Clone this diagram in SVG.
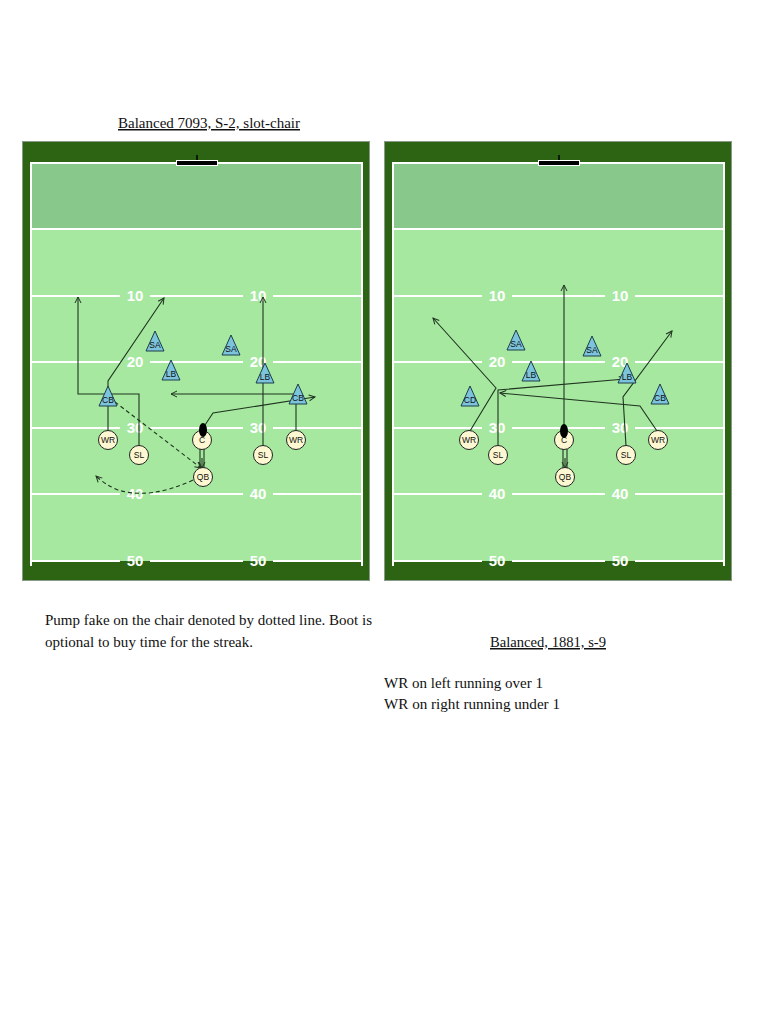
<svg xmlns="http://www.w3.org/2000/svg" xmlns:xlink="http://www.w3.org/1999/xlink" width="768" height="1024" viewBox="0 0 768 1024">
<style>
.cap{font-family:"Liberation Serif","Times New Roman",serif;font-size:15px;fill:#111}
.num{font-family:"Liberation Sans",Arial,sans-serif;font-size:15px;font-weight:bold;fill:#fff;text-anchor:middle}
.yl{stroke:#fff;stroke-width:2}
.off circle{fill:#fdf8d2;stroke:#222;stroke-width:1}
.off text,.def text{font-family:"Liberation Sans",Arial,sans-serif;font-size:8.5px;fill:#111;text-anchor:middle}
.def path{fill:#7cc4dc;stroke:#1d3d4a;stroke-width:1}
.rt{fill:none;stroke:#1f331f;stroke-width:1.1}
.dash{stroke-dasharray:4,3}
.ball{fill:#000}
</style>
<defs>
<marker id="arr" markerWidth="8" markerHeight="8" refX="7" refY="4" orient="auto" markerUnits="userSpaceOnUse">
<path d="M1,1 L7,4 L1,7" fill="none" stroke="#1f331f" stroke-width="1"/>
</marker>
<g id="fieldbg">
<rect x="22.5" y="141.5" width="347" height="439" fill="#2d6414" stroke="#8a9a88" stroke-width="1"/>
<rect x="31" y="163" width="331" height="66" fill="#88c88a"/>
<rect x="31" y="229" width="331" height="332" fill="#a6e8a0"/>
<path class="yl" fill="none" d="M31,566 V163 H362 V566"/>
<line class="yl" x1="31" y1="229" x2="362" y2="229"/>
<g class="yl">
<path d="M31,296H120M150,296H243M273,296H362"/>
<path d="M31,362H120M150,362H243M273,362H362"/>
<path d="M31,428H120M150,428H243M273,428H362"/>
<path d="M31,494H120M150,494H243M273,494H362"/>
<path d="M31,561H120M150,561H243M273,561H362"/>
</g>
<g class="num">
<text x="135" y="301">10</text><text x="258" y="301">10</text>
<text x="135" y="367">20</text><text x="258" y="367">20</text>
<text x="135" y="433">30</text><text x="258" y="433">30</text>
<text x="135" y="499">40</text><text x="258" y="499">40</text>
<text x="135" y="566">50</text><text x="258" y="566">50</text>
</g>
<line x1="197" y1="155" x2="197" y2="162" stroke="#000" stroke-width="1.5"/>
<rect x="176.5" y="160.5" width="41" height="5" fill="#000" stroke="#fff" stroke-width="1"/>
</g>
</defs>

<text class="cap" x="118" y="128" textLength="182" lengthAdjust="spacingAndGlyphs" text-decoration="underline">Balanced 7093, S-2, slot-chair</text>

<use href="#fieldbg" xlink:href="#fieldbg"/>
<use href="#fieldbg" xlink:href="#fieldbg" x="362"/>

<!-- Play 1 connectors -->
<g id="routes1">
<path class="rt" d="M108,431 V381 L164,298" marker-end="url(#arr)"/>
<path class="rt" d="M139,446 V394 H78 V297" marker-end="url(#arr)"/>
<path class="rt" d="M263,446 V297" marker-end="url(#arr)"/>
<path class="rt" d="M296,431 V394 H171" marker-end="url(#arr)"/>
<path class="rt" d="M203,428 L213,413 L315,397" marker-end="url(#arr)"/>
<path class="rt dash" d="M115,402 L201,468" marker-end="url(#arr)"/>
<path class="rt" d="M200,449 V468 M204,449 V468"/>
<path class="rt" d="M202,458 V468" marker-end="url(#arr)"/>
<path class="rt dash" d="M193,480 Q150,500 118,490 Q104,484 96,476" marker-end="url(#arr)"/>
</g>

<g id="p1-def" class="def">
<g id="p1-sa1"><path d="M155,331 L164,351 L146,351 Z"/><text x="155" y="348">SA</text></g>
<g id="p1-sa2"><path d="M231,335 L240,355 L222,355 Z"/><text x="231" y="352">SA</text></g>
<g id="p1-lb1"><path d="M171,360 L180,380 L162,380 Z"/><text x="171" y="377">LB</text></g>
<g id="p1-lb2"><path d="M265,363 L274,383 L256,383 Z"/><text x="265" y="380">LB</text></g>
<g id="p1-cb1"><path d="M108,386 L117,406 L99,406 Z"/><text x="108" y="403">CB</text></g>
<g id="p1-cb2"><path d="M298,384 L307,404 L289,404 Z"/><text x="298" y="401">CB</text></g>
</g>
<g id="p1-off" class="off">
<g id="p1-wr1"><circle cx="108" cy="440" r="9.5"/><text x="108" y="443">WR</text></g>
<g id="p1-sl1"><circle cx="139" cy="455" r="9.5"/><text x="139" y="458">SL</text></g>
<g id="p1-c"><circle cx="202" cy="440" r="9.5"/><text x="202" y="443">C</text></g>
<g id="p1-qb"><circle cx="203" cy="477" r="9.5"/><text x="203" y="480">QB</text></g>
<g id="p1-sl2"><circle cx="263" cy="455" r="9.5"/><text x="263" y="458">SL</text></g>
<g id="p1-wr2"><circle cx="296" cy="440" r="9.5"/><text x="296" y="443">WR</text></g>
</g>
<ellipse class="ball" cx="203" cy="430" rx="4" ry="7"/>

<!-- Play 2 connectors -->
<g id="routes2">
<path class="rt" d="M470,431 L496,388 L433,318" marker-end="url(#arr)"/>
<path class="rt" d="M498,446 V390 L625,379" marker-end="url(#arr)"/>
<path class="rt" d="M657,431 L640,406 L500,393" marker-end="url(#arr)"/>
<path class="rt" d="M626,446 L623,397 L672,331" marker-end="url(#arr)"/>
<path class="rt" d="M564,431 V285" marker-end="url(#arr)"/>
<path class="rt" d="M563,449 V468 M567,449 V468"/>
<path class="rt" d="M565,458 V468" marker-end="url(#arr)"/>
</g>

<g id="p2-def" class="def">
<g id="p2-sa1"><path d="M516,330 L525,350 L507,350 Z"/><text x="516" y="347">SA</text></g>
<g id="p2-sa2"><path d="M592,336 L601,356 L583,356 Z"/><text x="592" y="353">SA</text></g>
<g id="p2-lb1"><path d="M531,361 L540,381 L522,381 Z"/><text x="531" y="378">LB</text></g>
<g id="p2-lb2"><path d="M627,363 L636,383 L618,383 Z"/><text x="627" y="380">LB</text></g>
<g id="p2-cd"><path d="M470,386 L479,406 L461,406 Z"/><text x="470" y="403">CD</text></g>
<g id="p2-cb"><path d="M660,384 L669,404 L651,404 Z"/><text x="660" y="401">CB</text></g>
</g>
<g id="p2-off" class="off">
<g id="p2-wr1"><circle cx="469" cy="440" r="9.5"/><text x="469" y="443">WR</text></g>
<g id="p2-sl1"><circle cx="498" cy="455" r="9.5"/><text x="498" y="458">SL</text></g>
<g id="p2-c"><circle cx="564" cy="440" r="9.5"/><text x="564" y="443">C</text></g>
<g id="p2-qb"><circle cx="565" cy="477" r="9.5"/><text x="565" y="480">QB</text></g>
<g id="p2-sl2"><circle cx="626" cy="455" r="9.5"/><text x="626" y="458">SL</text></g>
<g id="p2-wr2"><circle cx="658" cy="440" r="9.5"/><text x="658" y="443">WR</text></g>
</g>
<ellipse class="ball" cx="564" cy="431" rx="4" ry="7"/>

<text class="cap" x="45" y="625" textLength="327" lengthAdjust="spacingAndGlyphs">Pump fake on the chair denoted by dotted line. Boot is</text>
<text class="cap" x="45" y="647" textLength="208" lengthAdjust="spacingAndGlyphs">optional to buy time for the streak.</text>
<text class="cap" x="490" y="647" textLength="116" lengthAdjust="spacingAndGlyphs" text-decoration="underline">Balanced, 1881, s-9</text>
<text class="cap" x="384" y="688" textLength="159" lengthAdjust="spacingAndGlyphs">WR on left running over 1</text>
<text class="cap" x="384" y="709" textLength="176" lengthAdjust="spacingAndGlyphs">WR on right running under 1</text>
</svg>
